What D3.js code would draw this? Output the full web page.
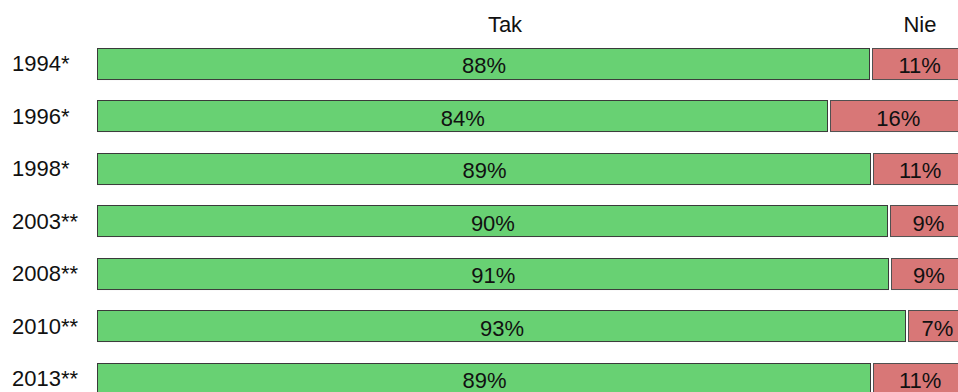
<!DOCTYPE html>
<html>
<head>
<meta charset="utf-8">
<script src="https://cdn.jsdelivr.net/npm/d3@7"></script>
<style>
  html, body { margin: 0; padding: 0; background: #fff; overflow: hidden; }
  svg { display: block; font-family: "Liberation Sans", Arial, sans-serif; }
</style>
</head>
<body>
<svg id="chart" width="958" height="392"></svg>
<script>
// Survey answers per year (percent)
const years = ["1994*", "1996*", "1998*", "2003**", "2008**", "2010**", "2013**"];
const tak = [88, 84, 89, 90, 91, 93, 89];
const nie = [11, 16, 11, 9, 9, 7, 11];
const seriesNames = ["Tak", "Nie"];
const colors = ["#68d173", "#d87777"];
const strokes = ["#3a3a3a", "#505050"];

const rows = years.map((y, i) => ({ year: y, Tak: tak[i], Nie: nie[i] }));

// Each row is normalised to its own total
const stacked = d3.stack().keys(seriesNames).offset(d3.stackOffsetExpand)(rows);

const svg = d3.select("#chart");

const x = d3.scaleLinear().domain([0, 1]).range([97, 968]);
const y = d3.scaleBand().domain(years)
  .range([37.76, 37.76 + years.length * 52.5])
  .paddingInner(0.39).paddingOuter(0.195);

// Column headers
svg.append("text").attr("x", 505).attr("y", 32).attr("text-anchor", "middle")
  .attr("font-size", 22).attr("fill", "#111").text(seriesNames[0]);
svg.append("text").attr("x", 920).attr("y", 32).attr("text-anchor", "middle")
  .attr("font-size", 22).attr("fill", "#111").text(seriesNames[1]);

// Year labels
svg.append("g").selectAll("text").data(years).join("text")
  .attr("x", 12)
  .attr("y", d => y(d) + y.bandwidth() / 2 + 7)
  .attr("font-size", 22).attr("fill", "#111")
  .text(d => d);

// Segments
stacked.forEach((layer, k) => {
  const g = svg.append("g");
  g.selectAll("rect").data(layer).join("rect")
    .attr("x", d => Math.round(x(d[0])) + (k === 0 ? 0.5 : 1.5))
    .attr("y", d => Math.round(y(d.data.year)) + 0.5)
    .attr("width", d => Math.round(x(d[1])) - Math.round(x(d[0])) - (k === 0 ? 2 : 2))
    .attr("height", y.bandwidth() - 1)
    .attr("fill", colors[k])
    .attr("stroke", strokes[k])
    .attr("stroke-width", 1);

  g.selectAll("text").data(layer).join("text")
    .attr("x", d => (x(d[0]) + x(d[1])) / 2)
    .attr("y", d => y(d.data.year) + y.bandwidth() / 2 + 9)
    .attr("text-anchor", "middle")
    .attr("font-size", 22).attr("fill", "#111")
    .text(d => d.data[seriesNames[k]] + "%");
});
</script>
</body>
</html>
